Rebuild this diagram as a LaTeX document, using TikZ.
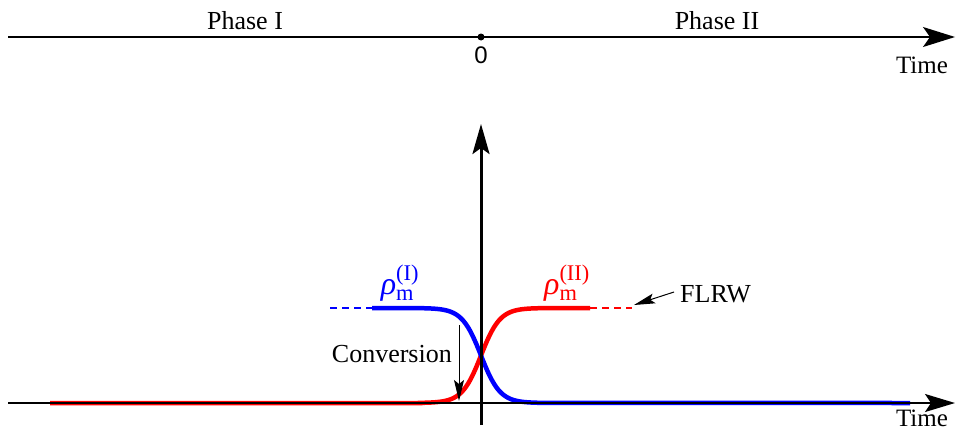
\documentclass[tikz,border=0pt]{standalone}
\usepackage{fontspec}
\usepackage{amsmath}
\setmainfont{Liberation Serif}
\newfontfamily\sansf{Liberation Sans}
\usetikzlibrary{arrows.meta}
\begin{document}
\begin{tikzpicture}[x=1pt,y=-1pt,
  lbl/.style={font=\fontsize{26}{30}\selectfont, inner sep=0pt},
  axis/.style={line width=2pt,-{Stealth[length=30pt,width=18pt,inset=6pt]}},
  thickc/.style={line width=4.5pt},
  dashc/.style={line width=2.6pt, dash pattern=on 7pt off 5pt},
  pointer/.style={line width=1pt,-{Stealth[length=21pt,width=10pt,inset=4pt]}}]
\useasboundingbox (0,0) rectangle (958,431);
% top timeline
\coordinate (t0) at (8,37);
\coordinate (t1) at (955,37);
\draw[axis, line width=1.4pt, -{Stealth[length=32pt,width=20pt,inset=7pt]}] (t0) -- (t1);
\node[circle, fill, inner sep=0pt, minimum size=7pt] (dot) at (481,37) {};
\node[inner sep=0pt, font=\sansf\fontsize{24}{28}\selectfont] (zero) at (481,55) {0};
\node[lbl, anchor=base] (ph1) at (245,29) {Phase I};
\node[lbl, anchor=base] (ph2) at (717,29) {Phase II};
\node[lbl, font=\fontsize{25}{28}\selectfont] (time1) at (922,65) {Time};
% curves
\draw[red, thickc] (50,403) -- (420,403)
  -- plot[domain=420:560, samples=90] (\x, {403-95/(1+exp(-(\x-481)/9.5))})
  -- (590,308);
\draw[red, dashc] (590,308) -- (632,308);
\draw[blue, thickc] (372,308) -- (400,308)
  -- plot[domain=400:545, samples=90] (\x, {308+95/(1+exp(-(\x-481)/9.5))})
  -- (910,403);
\draw[blue, dashc] (330,308) -- (372,308);
% bottom axes
\coordinate (b0) at (8,403);
\coordinate (b1) at (955,403);
\coordinate (v0) at (481,425);
\coordinate (v1) at (481,124);
\draw[axis] (b0) -- (b1);
\draw[axis, line width=3pt, -{Stealth[length=30pt,width=17pt,inset=6pt]}] (v0) -- (v1);
\node[lbl, font=\fontsize{25}{28}\selectfont] (time2) at (922,418) {Time};
% labels
\node[lbl, blue, font=\fontsize{32}{36}\selectfont] (rho1) at (400,283) {$\text{\itshape ρ}^{\text{(I)}}_{\text{m}}$};
\node[lbl, red, font=\fontsize{32}{36}\selectfont] (rho2) at (567,283) {$\text{\itshape ρ}^{\text{(II)}}_{\text{m}}$};
\node[lbl, anchor=east] (conv) at (452,354) {Conversion};
\coordinate (ca) at (459,325);
\coordinate (cb) at (459,401);
\draw[pointer] (ca) -- (cb);
\node[lbl, anchor=west] (flrw) at (680,294) {FLRW};
\coordinate (fb) at (634,305);
\draw[pointer] (flrw.west) ++(-6pt,2pt) coordinate (fa) (fa) -- (fb);
\end{tikzpicture}
\end{document}
